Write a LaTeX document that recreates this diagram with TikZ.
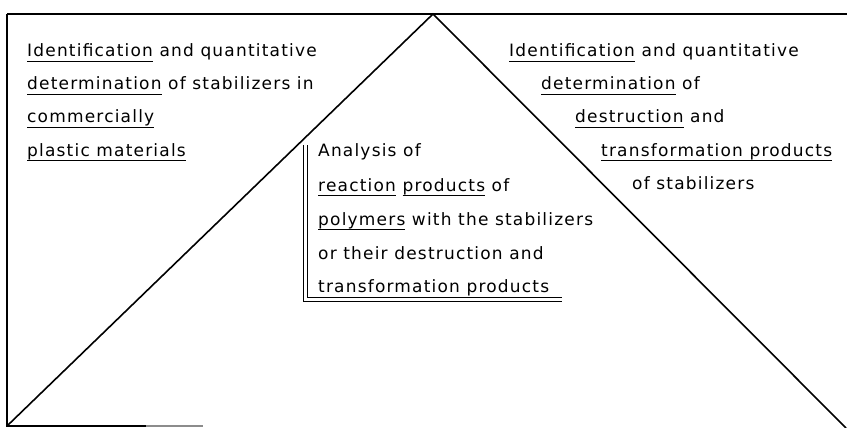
\documentclass[tikz,border=0pt]{standalone}
\usepackage{fontspec}
\setmainfont[LetterSpace=7]{DejaVu Sans}
\newcommand{\uword}[1]{{\setbox0\hbox{#1}\rlap{\rule[-5pt]{\wd0}{1.1pt}}\box0}}
\begin{document}
\begin{tikzpicture}[x=1pt,y=-1pt,
  txt/.style={anchor=base west, inner sep=0pt, font=\fontsize{17}{19}\selectfont},
  frame/.style={line width=1.6pt}]
\useasboundingbox (0,0) rectangle (847,428);
\coordinate (tl) at (7,14);
\coordinate (tr) at (847,14);
\coordinate (apex) at (433,14);
\coordinate (bl) at (7,426);
\coordinate (br) at (846,428);
\coordinate (bend) at (146,426);
\coordinate (bfade) at (203,426);
\draw[frame] (tl) -- (tr);
\draw[frame] (tl) -- (bl) -- (bend);
\draw[frame, black!45] (bend) -- (bfade);
\draw[frame] (bl) -- (apex) -- (br);
\coordinate (mo1) at (303,145);
\coordinate (mo2) at (303,301);
\coordinate (mo3) at (562,301);
\coordinate (mi1) at (307,145);
\coordinate (mi2) at (307,297);
\coordinate (mi3) at (562,297);
\draw[line width=1pt] (mo1) -- (mo2) -- (mo3);
\draw[line width=1pt] (mi1) -- (mi2) -- (mi3);
\node[txt] (l1) at (27,57) {\uword{Identification} and quantitative};
\node[txt] (l2) at (27,90) {\uword{determination} of stabilizers in};
\node[txt] (l3) at (27,123) {\uword{commercially}};
\node[txt] (l4) at (27,156) {\uword{plastic materials}};
\node[txt] (r1) at (509,57) {\uword{Identification} and quantitative};
\node[txt] (r2) at (541,90) {\uword{determination} of};
\node[txt] (r3) at (575,123) {\uword{destruction} and};
\node[txt] (r4) at (601,156) {\uword{transformation products}};
\node[txt] (r5) at (632,189) {of stabilizers};
\node[txt] (m1) at (318,157) {Analysis of};
\node[txt] (m2) at (318,191) {\uword{reaction} \uword{products} of};
\node[txt] (m3) at (318,225) {\uword{polymers} with the stabilizers};
\node[txt] (m4) at (318,259) {or their destruction and};
\node[txt] (m5) at (318,292) {transformation products};
\end{tikzpicture}
\end{document}
